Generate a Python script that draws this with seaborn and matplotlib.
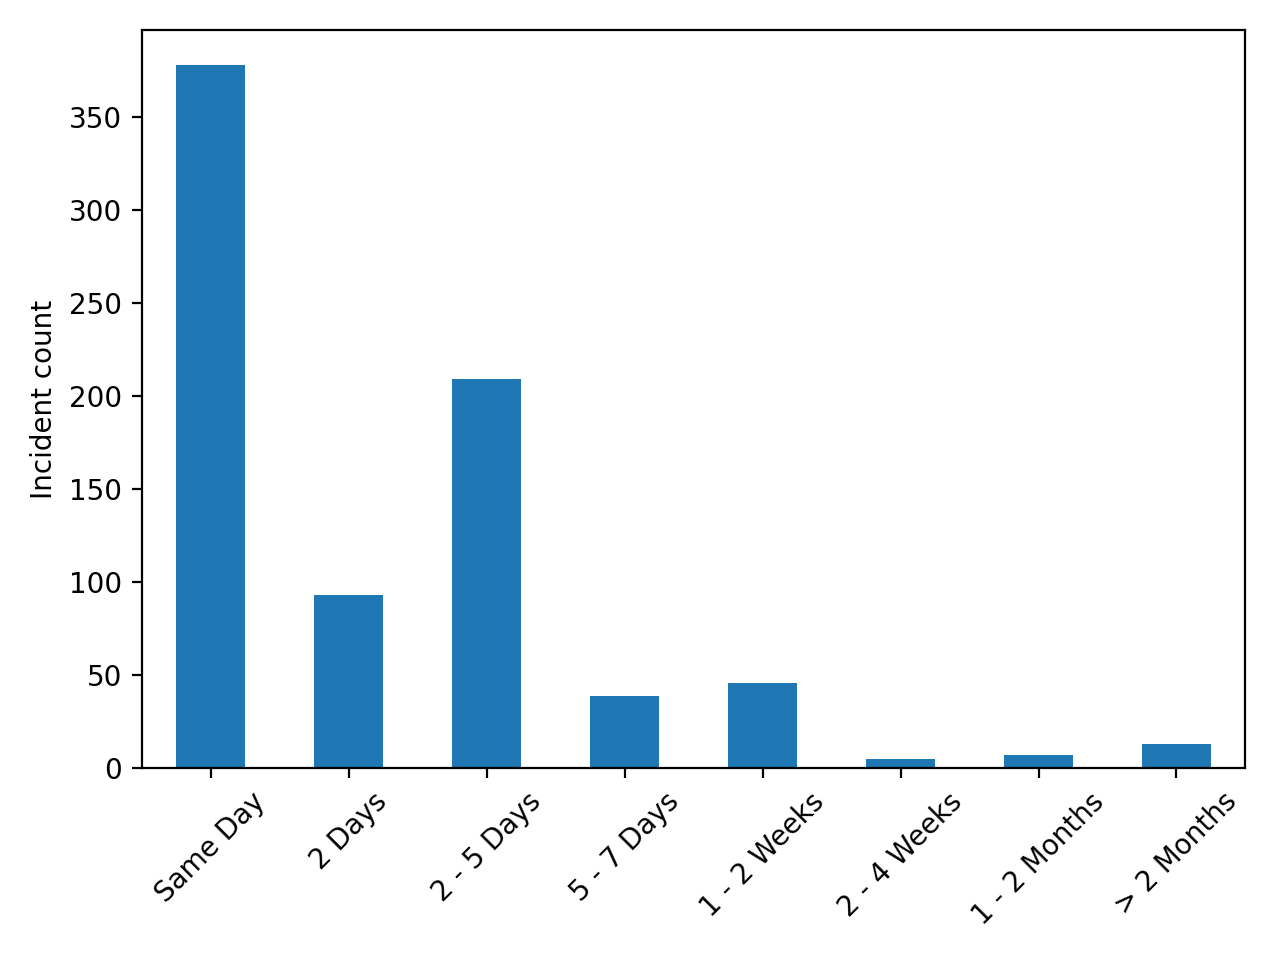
import pandas as pd
import matplotlib
matplotlib.use("Agg")
import matplotlib.pyplot as plt
import seaborn as sns

# data
categories = ['Same Day', '2 Days', '2 - 5 Days', '5 - 7 Days',
              '1 - 2 Weeks', '2 - 4 Weeks', '1 - 2 Months', '> 2 Months']
counts = [378, 93, 209, 39, 46, 5, 7, 13]

df = pd.DataFrame({'bucket': categories, 'count': counts})

fig, ax = plt.subplots(figsize=(6.4, 4.8), dpi=200)
sns.barplot(data=df, x='bucket', y='count', color='#1f77b4', saturation=1,
            width=0.5, ax=ax)
ax.set_xlabel('')
ax.set_ylabel('Incident count')
ax.set_xlim(-0.5, len(categories) - 0.5)
plt.xticks(rotation=45)
plt.tight_layout()
plt.savefig('out.png', dpi=200)
